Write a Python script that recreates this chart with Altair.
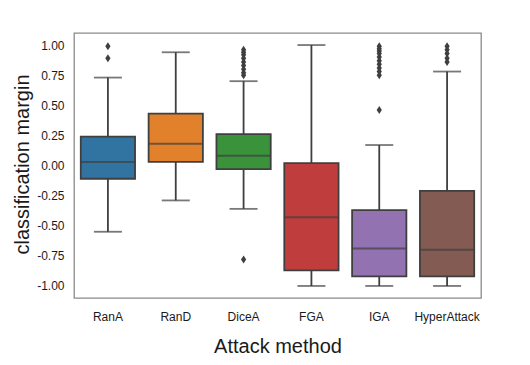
import altair as alt
import pandas as pd

methods = ["RanA", "RanD", "DiceA", "FGA", "IGA", "HyperAttack"]
colors = ["#3274a1", "#e1812c", "#3a923a", "#c03d3e", "#9372b2", "#845b53"]
whisker_low = [-0.55, -0.29, -0.36, -1.0, -1.0, -1.0]
q1 = [-0.11, 0.03, -0.03, -0.87, -0.92, -0.92]
median = [0.03, 0.18, 0.08, -0.43, -0.69, -0.70]
q3 = [0.24, 0.43, 0.26, 0.02, -0.37, -0.21]
whisker_high = [0.73, 0.94, 0.70, 1.0, 0.17, 0.78]

outliers_rana = [0.99, 0.89]
outliers_rand = []
outliers_dicea = [0.96, 0.94, 0.92, 0.89, 0.86, 0.83, 0.80, 0.77, 0.75, -0.78]
outliers_fga = []
outliers_iga = [0.99, 0.97, 0.95, 0.93, 0.90, 0.87, 0.84, 0.81, 0.78, 0.75, 0.46]
outliers_hyper = [0.99, 0.96, 0.93, 0.89, 0.86]

ytick_values = [-1.0, -0.75, -0.5, -0.25, 0.0, 0.25, 0.5, 0.75, 1.0]

stats = pd.DataFrame({
    "method": methods,
    "lo": whisker_low,
    "q1": q1,
    "med": median,
    "q3": q3,
    "hi": whisker_high,
})

out_rows = []
for m, vals in zip(methods, [outliers_rana, outliers_rand, outliers_dicea,
                             outliers_fga, outliers_iga, outliers_hyper]):
    for v in vals:
        out_rows.append({"method": m, "value": v})
outs = pd.DataFrame(out_rows)

FONT = "Liberation Sans"
EDGE = "#3f3f3f"

x_enc = alt.X(
    "method:N",
    sort=methods,
    scale=alt.Scale(domain=methods, paddingInner=0, paddingOuter=0),
    axis=alt.Axis(
        title="Attack method", labelAngle=0, ticks=False, domain=False,
        labelFontSize=12, labelPadding=13, labelColor="#1a1a1a",
        titleFontSize=20, titleFontWeight="normal", titleColor="#1a1a1a",
        titleY=54, titleBaseline="alphabetic", labelFont=FONT, titleFont=FONT,
        labelOverlap=False,
    ),
)
y_scale = alt.Scale(domain=[-1.1, 1.1], nice=False, zero=False)
y_axis = alt.Axis(
    title="classification margin", values=ytick_values, format=".2f",
    ticks=False, domain=False, grid=False, labelFontSize=12, labelPadding=10,
    labelColor="#1a1a1a", titleFontSize=20, titleFontWeight="normal",
    titleColor="#1a1a1a", titleX=-46, titleY=131, titleBaseline="alphabetic",
    labelFont=FONT, titleFont=FONT, labelOverlap=False,
    labelExpr="replace(datum.label, '\u2212', '-')",
)


def yq(field):
    return alt.Y(field, type="quantitative", scale=y_scale, axis=y_axis,
                 title="classification margin")


base = alt.Chart(stats)

whiskers = base.mark_rule(color=EDGE, strokeWidth=1.8).encode(
    x=x_enc, y=yq("lo"), y2="hi:Q",
)
caps_lo = base.mark_tick(color=EDGE, size=28, thickness=1.8, orient="horizontal").encode(
    x=x_enc, y=yq("lo"))
caps_hi = base.mark_tick(color=EDGE, size=28, thickness=1.8, orient="horizontal").encode(
    x=x_enc, y=yq("hi"))
boxes = base.mark_bar(width={"band": 0.8}, stroke=EDGE, strokeWidth=1.8).encode(
    x=x_enc,
    y=yq("q1"),
    y2="q3:Q",
    color=alt.Color("method:N", scale=alt.Scale(domain=methods, range=colors), legend=None),
)
medians = base.mark_tick(color=EDGE, size=54, thickness=2, orient="horizontal").encode(
    x=x_enc, y=yq("med"))
points = alt.Chart(outs).mark_point(
    shape="M0,-1L0.65,0L0,1L-0.65,0Z", filled=True, color=EDGE, opacity=1, size=64
).encode(x=x_enc, y=yq("value"))

chart = alt.layer(whiskers, caps_lo, caps_hi, boxes, medians, points).properties(
    width=407,
    height=265,
    autosize=alt.AutoSizeParams(type="none"),
    padding={"left": 66, "top": 25, "right": 30, "bottom": 60},
    background="white",
).configure_view(
    stroke="#8a8a8a", strokeWidth=1.3
).configure_axis(labelOverlap=False, labelFlush=False)

chart.save("out.html", embed_options={"renderer": "svg", "actions": False})
